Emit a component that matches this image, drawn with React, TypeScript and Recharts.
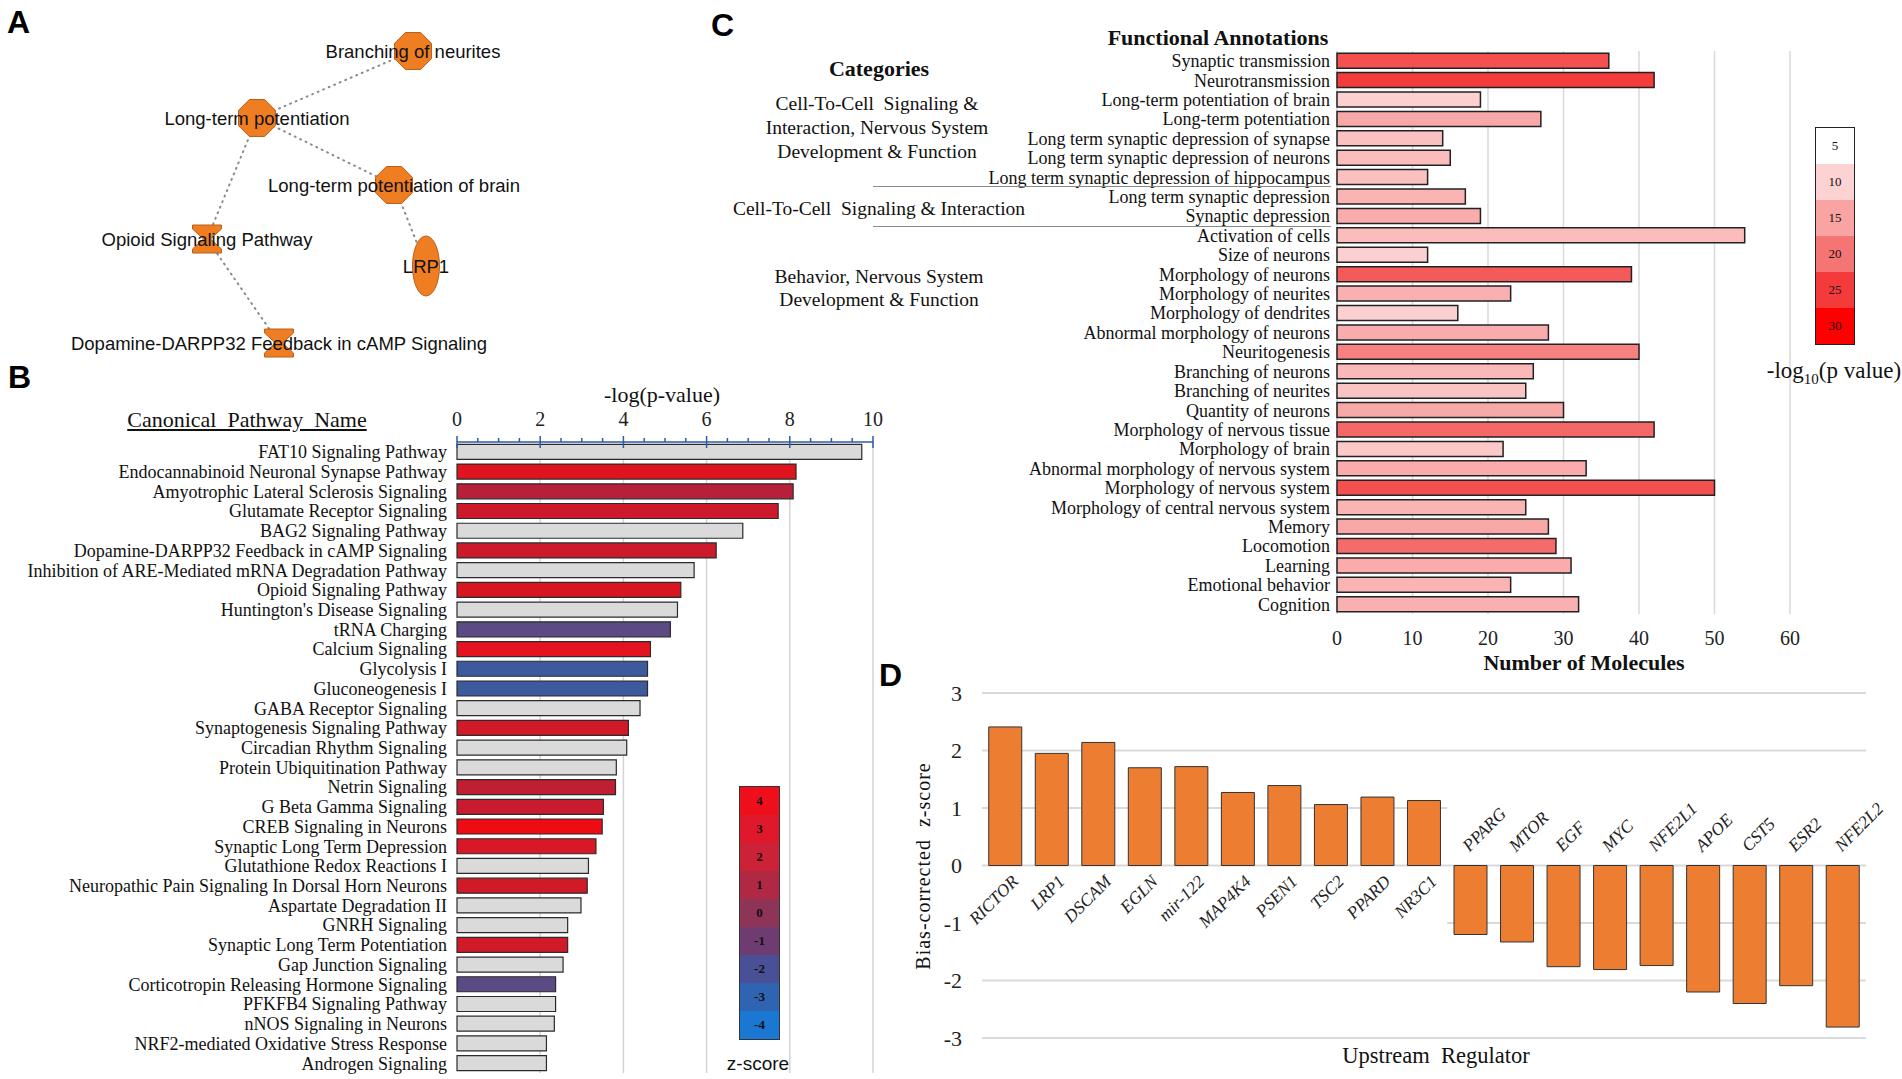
import React from "react"
import {
  BarChart,
  Bar,
  XAxis,
  YAxis,
  CartesianGrid,
  Cell,
  LabelList,
  ReferenceLine,
  ReferenceArea,
  ScatterChart,
  Scatter,
} from "recharts"

const SERIF = '"Liberation Serif", "Times New Roman", serif'
const SANS = '"Liberation Sans", Arial, sans-serif'

// ---------- A: network ----------
const NODE_NAMES = [
  "Branching of neurites",
  "Long-term potentiation",
  "Long-term potentiation of brain",
  "Opioid Signaling Pathway",
  "LRP1",
  "Dopamine-DARPP32 Feedback in cAMP Signaling",
]
const NODE_X = [413, 257, 394, 207, 426, 279]
const NODE_Y = [51, 118, 185, 239, 266, 343]
const NODE_KIND = ["octagon", "octagon", "octagon", "hourglass", "ellipse", "hourglass"]
const EDGE_FROM = [1, 1, 1, 2, 3]
const EDGE_TO = [0, 2, 3, 4, 5]

// ---------- B: canonical pathways ----------
const PATHWAYS = [
  "FAT10 Signaling Pathway",
  "Endocannabinoid Neuronal Synapse Pathway",
  "Amyotrophic Lateral Sclerosis Signaling",
  "Glutamate Receptor Signaling",
  "BAG2 Signaling Pathway",
  "Dopamine-DARPP32 Feedback in cAMP Signaling",
  "Inhibition of ARE-Mediated mRNA Degradation Pathway",
  "Opioid Signaling Pathway",
  "Huntington's Disease Signaling",
  "tRNA Charging",
  "Calcium Signaling",
  "Glycolysis I",
  "Gluconeogenesis I",
  "GABA Receptor Signaling",
  "Synaptogenesis Signaling Pathway",
  "Circadian Rhythm Signaling",
  "Protein Ubiquitination Pathway",
  "Netrin Signaling",
  "G Beta Gamma Signaling",
  "CREB Signaling in Neurons",
  "Synaptic Long Term Depression",
  "Glutathione Redox Reactions I",
  "Neuropathic Pain Signaling In Dorsal Horn Neurons",
  "Aspartate Degradation II",
  "GNRH Signaling",
  "Synaptic Long Term Potentiation",
  "Gap Junction Signaling",
  "Corticotropin Releasing Hormone Signaling",
  "PFKFB4 Signaling Pathway",
  "nNOS Signaling in Neurons",
  "NRF2-mediated Oxidative Stress Response",
  "Androgen Signaling",
]
const PATHWAY_LOGP = [
  9.73, 8.15, 8.08, 7.72, 6.87, 6.23, 5.7, 5.38, 5.3, 5.13, 4.65, 4.58, 4.58, 4.4, 4.12, 4.08,
  3.83, 3.81, 3.52, 3.49, 3.34, 3.16, 3.13, 2.98, 2.66, 2.66, 2.55, 2.37, 2.37, 2.34, 2.15, 2.15,
]
const GRAY = "#dadada"
const PATHWAY_COLORS = [
  GRAY, "#e0141f", "#b8203a", "#cc1a2a", GRAY, "#cc1a2a", GRAY, "#d81620",
  GRAY, "#5c4a84", "#e3131f", "#3d5a9c", "#3d5a9c", GRAY, "#d01a28", GRAY,
  GRAY, "#c01e32", "#c81b2e", "#ee0b14", "#d81826", GRAY, "#d01a28", GRAY,
  GRAY, "#d01a28", GRAY, "#5c4a84", GRAY, GRAY, GRAY, GRAY,
]
const LOGP_TICKS = [
  0, 0.5, 1, 1.5, 2, 2.5, 3, 3.5, 4, 4.5, 5, 5.5, 6, 6.5, 7, 7.5, 8, 8.5, 9, 9.5, 10,
]
const LOGP_GRID = [2, 4, 6, 8, 10]
const ZSCORE_LEVELS = [4, 3, 2, 1, 0, -1, -2, -3, -4]
const ZSCORE_COLORS = [
  "#ef0f1b", "#e0182c", "#cc2238", "#b02844", "#8e3456", "#6e3c70", "#4a5096", "#2f64b2", "#1a78d2",
]

// ---------- C: functional annotations ----------
const ANNOTATIONS = [
  "Synaptic transmission",
  "Neurotransmission",
  "Long-term potentiation of brain",
  "Long-term potentiation",
  "Long term synaptic depression of synapse",
  "Long term synaptic depression of neurons",
  "Long term synaptic depression of hippocampus",
  "Long term synaptic depression",
  "Synaptic depression",
  "Activation of cells",
  "Size of neurons",
  "Morphology of neurons",
  "Morphology of neurites",
  "Morphology of dendrites",
  "Abnormal morphology of neurons",
  "Neuritogenesis",
  "Branching of neurons",
  "Branching of neurites",
  "Quantity of neurons",
  "Morphology of nervous tissue",
  "Morphology of brain",
  "Abnormal morphology of nervous system",
  "Morphology of nervous system",
  "Morphology of central nervous system",
  "Memory",
  "Locomotion",
  "Learning",
  "Emotional behavior",
  "Cognition",
]
const MOLECULES = [
  36, 42, 19, 27, 14, 15, 12, 17, 19, 54, 12, 39, 23, 16, 28, 40, 26, 25, 30, 42, 22, 33, 50, 25,
  28, 29, 31, 23, 32,
]
const ANNOTATION_COLORS = [
  "#f45050", "#f43c3c", "#fcd0d0", "#f9a8a8", "#fbc0c0", "#fbbcbc", "#fbc0c0", "#fbb4b4",
  "#faacac", "#fbbcbc", "#fcd0d0", "#f55a5a", "#f9b0b0", "#fcd0d0", "#f9acac", "#f78080",
  "#fab8b8", "#fbc4c4", "#f9a8a8", "#f56868", "#fcc8c8", "#faacac", "#f55050", "#fab4b4",
  "#f9a8a8", "#f56a6a", "#faacac", "#fab4b4", "#f9b0b0",
]
const MOLECULE_TICKS = [0, 10, 20, 30, 40, 50, 60]
const PVAL_LEVELS = [5, 10, 15, 20, 25, 30]
const PVAL_COLORS = ["#ffffff", "#fcd2d2", "#f9a3a3", "#f57474", "#f43a3a", "#ff0000"]

// ---------- D: upstream regulators ----------
const REGULATORS = [
  "RICTOR", "LRP1", "DSCAM", "EGLN", "mir-122", "MAP4K4", "PSEN1", "TSC2", "PPARD", "NR3C1",
  "PPARG", "MTOR", "EGF", "MYC", "NFE2L1", "APOE", "CST5", "ESR2", "NFE2L2",
]
const REGULATOR_Z = [
  2.41, 1.95, 2.14, 1.7, 1.72, 1.27, 1.39, 1.06, 1.19, 1.13,
  -1.2, -1.33, -1.76, -1.81, -1.74, -2.2, -2.4, -2.09, -2.81,
]
const Z_TICKS = [-3, -2, -1, 0, 1, 2, 3]

const nodes = NODE_NAMES.map((name, i) => ({ name, x: NODE_X[i], y: NODE_Y[i], kind: NODE_KIND[i] }))
const pathwayRows = PATHWAYS.map((name, i) => ({ name, logp: PATHWAY_LOGP[i] }))
const annotationRows = ANNOTATIONS.map((name, i) => ({ name, count: MOLECULES[i] }))
const regulatorRows = REGULATORS.map((name, i) => ({ name, z: REGULATOR_Z[i] }))

function Txt({ x, y, size, family = SERIF, weight = 400, children, style }: any) {
  return (
    <div
      style={{
        position: "absolute",
        left: x,
        top: y,
        transform: "translate(-50%, -50%)",
        fontFamily: family,
        fontSize: size,
        fontWeight: weight,
        lineHeight: 1,
        whiteSpace: "pre",
        color: "#111",
        ...style,
      }}
    >
      {children}
    </div>
  )
}

function PanelLetter({ x, y, children }: any) {
  return (
    <div
      style={{
        position: "absolute",
        left: x,
        top: y,
        fontFamily: SANS,
        fontWeight: 700,
        fontSize: 32,
        lineHeight: 1,
        color: "#000",
      }}
    >
      {children}
    </div>
  )
}

const ORANGE = "#ef7d22"

function NodeShape(props: any) {
  const { cx, cy, payload } = props
  let mark: React.ReactNode
  if (payload.kind === "octagon") {
    const r = 20
    const pts = [0, 1, 2, 3, 4, 5, 6, 7]
      .map((k) => {
        const a = Math.PI / 8 + (k * Math.PI) / 4
        return `${cx + r * Math.cos(a)},${cy + r * Math.sin(a)}`
      })
      .join(" ")
    mark = <polygon points={pts} fill={ORANGE} stroke="#b8601a" strokeWidth={1} />
  } else if (payload.kind === "hourglass") {
    const w = 29
    const h = 28
    const pts = [
      [-w / 2, -h / 2], [w / 2, -h / 2], [w / 2, -h / 2 + 4], [w * 0.12, 0], [w / 2, h / 2 - 4],
      [w / 2, h / 2], [-w / 2, h / 2], [-w / 2, h / 2 - 4], [-w * 0.12, 0], [-w / 2, -h / 2 + 4],
    ]
      .map(([dx, dy]) => `${cx + dx},${cy + dy}`)
      .join(" ")
    mark = <polygon points={pts} fill={ORANGE} stroke="#b8601a" strokeWidth={1} />
  } else {
    mark = <ellipse cx={cx} cy={cy} rx={13.5} ry={30} fill={ORANGE} stroke="#b8601a" strokeWidth={1} />
  }
  return (
    <g>
      {mark}
      <text x={cx} y={cy} dy="0.36em" textAnchor="middle" fontFamily={SANS} fontSize={18.5} fill="#111">
        {payload.name}
      </text>
    </g>
  )
}

function LogPTick(props: any) {
  const { x, y, payload } = props
  const v = payload.value
  const major = v % 2 === 0
  return (
    <g>
      <line
        x1={x}
        x2={x}
        y1={y - (major ? 6 : 4)}
        y2={major ? y + 6 : y}
        stroke="#2e5aa8"
        strokeWidth={1.5}
      />
      {major && (
        <text x={x} y={y - 16} textAnchor="middle" fontFamily={SERIF} fontSize={20} fill="#222">
          {v}
        </text>
      )}
    </g>
  )
}

function RegulatorLabel(props: any) {
  const vb = props.viewBox ?? props
  const { x, y, width, height } = vb
  const v = REGULATOR_Z[props.index]
  const cx = x + width / 2
  let zero: number
  if (v >= 0) zero = y + height
  else zero = height < 0 ? y + height : y
  const ax = v >= 0 ? cx + 14 : cx - 1
  const ay = v >= 0 ? zero + 17 : zero - 13
  return (
    <text
      x={ax}
      y={ay}
      textAnchor={v >= 0 ? "end" : "start"}
      transform={`rotate(-45 ${ax} ${ay})`}
      fontFamily={SERIF}
      fontStyle="italic"
      fontSize={17.5}
      fill="#222"
    >
      {REGULATORS[props.index]}
    </text>
  )
}

function NetworkPanel() {
  return (
    <div style={{ position: "absolute", left: 0, top: 0 }}>
      <ScatterChart width={560} height={370} margin={{ top: 0, right: 0, bottom: 0, left: 0 }}>
        <XAxis type="number" dataKey="x" domain={[0, 560]} hide />
        <YAxis type="number" dataKey="y" domain={[0, 370]} reversed hide />
        {EDGE_FROM.map((f, i) => (
          <ReferenceLine
            key={i}
            segment={[
              { x: NODE_X[f], y: NODE_Y[f] },
              { x: NODE_X[EDGE_TO[i]], y: NODE_Y[EDGE_TO[i]] },
            ]}
            stroke="#8a8a8a"
            strokeWidth={2}
            strokeDasharray="1 5"
            strokeLinecap="round"
          />
        ))}
        <Scatter data={nodes} shape={NodeShape} isAnimationActive={false} />
      </ScatterChart>
    </div>
  )
}

function PathwayPanel() {
  return (
    <>
      <div style={{ position: "absolute", left: 0, top: 380 }}>
        <BarChart
          width={900}
          height={699}
          layout="vertical"
          data={pathwayRows}
          barCategoryGap="12%"
          margin={{ top: 22, right: 27, bottom: 6, left: 0 }}
        >
          <CartesianGrid
            horizontal={false}
            verticalValues={LOGP_GRID}
            stroke="#d4d4d4"
            strokeWidth={1.5}
          />
          <XAxis
            type="number"
            orientation="top"
            domain={[0, 10]}
            ticks={LOGP_TICKS}
            interval={0}
            height={40}
            tickSize={0}
            tickMargin={0}
            tickLine={false}
            axisLine={{ stroke: "#2e5aa8", strokeWidth: 1.5 }}
            tick={LogPTick}
          />
          <YAxis
            type="category"
            dataKey="name"
            width={457}
            interval={0}
            tickSize={0}
            tickMargin={10}
            axisLine={false}
            tickLine={false}
            tick={{ fontFamily: SERIF, fontSize: 18, fill: "#111" }}
          />
          <Bar dataKey="logp" stroke="#2b2b2b" strokeWidth={1.2} isAnimationActive={false}>
            {pathwayRows.map((r, i) => (
              <Cell key={r.name} fill={PATHWAY_COLORS[i]} />
            ))}
          </Bar>
        </BarChart>
      </div>
      <Txt x={247} y={420} size={22} style={{ textDecoration: "underline" }}>
        {"Canonical  Pathway  Name"}
      </Txt>
      <Txt x={662} y={395} size={22}>
        -log(p-value)
      </Txt>
      <div
        style={{
          position: "absolute",
          left: 739,
          top: 786,
          width: 39,
          border: "1px solid #333",
        }}
      >
        {ZSCORE_LEVELS.map((lv, i) => (
          <div
            key={lv}
            style={{
              height: 28,
              background: ZSCORE_COLORS[i],
              display: "flex",
              alignItems: "center",
              justifyContent: "center",
              fontFamily: SERIF,
              fontWeight: 700,
              fontSize: 13,
              color: "#111",
            }}
          >
            {lv}
          </div>
        ))}
      </div>
      <Txt x={758} y={1063} size={19} family={SANS}>
        z-score
      </Txt>
    </>
  )
}

function AnnotationPanel() {
  return (
    <>
      <div style={{ position: "absolute", left: 900, top: 0 }}>
        <BarChart
          width={900}
          height={680}
          layout="vertical"
          data={annotationRows}
          barCategoryGap="11%"
          margin={{ top: 51, right: 10, bottom: 26, left: 0 }}
        >
          <CartesianGrid horizontal={false} stroke="#d9d9d9" strokeWidth={1.5} />
          <XAxis
            type="number"
            domain={[0, 60]}
            ticks={MOLECULE_TICKS}
            height={40}
            tickSize={0}
            tickMargin={17}
            axisLine={false}
            tickLine={false}
            tick={{ fontFamily: SERIF, fontSize: 20, fill: "#222" }}
          />
          <YAxis
            type="category"
            dataKey="name"
            width={437}
            interval={0}
            tickSize={0}
            tickMargin={7}
            axisLine={false}
            tickLine={false}
            tick={{ fontFamily: SERIF, fontSize: 18, fill: "#111" }}
          />
          <Bar dataKey="count" stroke="#222" strokeWidth={1.5} isAnimationActive={false}>
            {annotationRows.map((r, i) => (
              <Cell key={r.name} fill={ANNOTATION_COLORS[i]} />
            ))}
          </Bar>
        </BarChart>
      </div>
      <Txt x={1218} y={38} size={22} weight={700}>
        Functional Annotations
      </Txt>
      <Txt x={1584} y={663} size={22} weight={700}>
        Number of Molecules
      </Txt>
      <Txt x={879} y={69} size={22} weight={700}>
        Categories
      </Txt>
      <Txt x={877} y={104} size={19.5}>{"Cell-To-Cell  Signaling &"}</Txt>
      <Txt x={877} y={128} size={19.5}>Interaction, Nervous System</Txt>
      <Txt x={877} y={152} size={19.5}>Development &amp; Function</Txt>
      <Txt x={879} y={209} size={19.5}>{"Cell-To-Cell  Signaling & Interaction"}</Txt>
      <Txt x={879} y={277} size={19.5}>Behavior, Nervous System</Txt>
      <Txt x={879} y={300} size={19.5}>Development &amp; Function</Txt>
      <div style={{ position: "absolute", left: 873, top: 186, width: 458, height: 0, borderTop: "1.5px solid #8a8a8a" }} />
      <div style={{ position: "absolute", left: 873, top: 226, width: 458, height: 0, borderTop: "1.5px solid #8a8a8a" }} />
      <div
        style={{
          position: "absolute",
          left: 1815,
          top: 127,
          width: 38,
          border: "1.5px solid #222",
        }}
      >
        {PVAL_LEVELS.map((lv, i) => (
          <div
            key={lv}
            style={{
              height: 36,
              background: PVAL_COLORS[i],
              display: "flex",
              alignItems: "center",
              justifyContent: "center",
              fontFamily: SERIF,
              fontSize: 13,
              color: "#111",
            }}
          >
            {lv}
          </div>
        ))}
      </div>
      <Txt x={1834} y={373} size={23}>
        -log<sub style={{ fontSize: 15 }}>10</sub>(p value)
      </Txt>
    </>
  )
}

function RegulatorPanel() {
  return (
    <>
      <div style={{ position: "absolute", left: 880, top: 660 }}>
        <BarChart
          width={1022}
          height={419}
          data={regulatorRows}
          barCategoryGap="14.5%"
          margin={{ top: 33, right: 36, bottom: 41, left: 0 }}
        >
          <CartesianGrid vertical={false} stroke="#d9d9d9" strokeWidth={2} />
          <XAxis type="category" dataKey="name" hide />
          <YAxis
            type="number"
            domain={[-3, 3]}
            ticks={Z_TICKS}
            width={102}
            tickSize={0}
            tickMargin={20}
            axisLine={false}
            tickLine={false}
            tick={{ fontFamily: SERIF, fontSize: 22, fill: "#222" }}
          />
          <ReferenceArea x1="RICTOR" x2="NR3C1" y1={-1.4} y2={-0.08} fill="#ffffff" fillOpacity={1} stroke="none" />
          <ReferenceArea x1="PPARG" x2="NFE2L2" y1={0.08} y2={1.4} fill="#ffffff" fillOpacity={1} stroke="none" />
          <Bar dataKey="z" fill="#ed7d31" stroke="#333" strokeWidth={1} isAnimationActive={false}>
            <LabelList dataKey="name" content={RegulatorLabel} />
          </Bar>
        </BarChart>
      </div>
      <Txt x={923} y={866} size={20} style={{ transform: "translate(-50%, -50%) rotate(-90deg)", letterSpacing: 1 }}>
        {"Bias-corrected  z-score"}
      </Txt>
      <Txt x={1436} y={1056} size={22.5}>
        {"Upstream  Regulator"}
      </Txt>
    </>
  )
}

export default function App() {
  return (
    <div
      style={{
        position: "absolute",
        left: 0,
        top: 0,
        width: 1902,
        height: 1079,
        background: "#fff",
        overflow: "hidden",
      }}
    >
      <NetworkPanel />
      <PathwayPanel />
      <AnnotationPanel />
      <RegulatorPanel />
      <PanelLetter x={7} y={6}>A</PanelLetter>
      <PanelLetter x={8} y={361}>B</PanelLetter>
      <PanelLetter x={711} y={9}>C</PanelLetter>
      <PanelLetter x={879} y={659}>D</PanelLetter>
    </div>
  )
}
